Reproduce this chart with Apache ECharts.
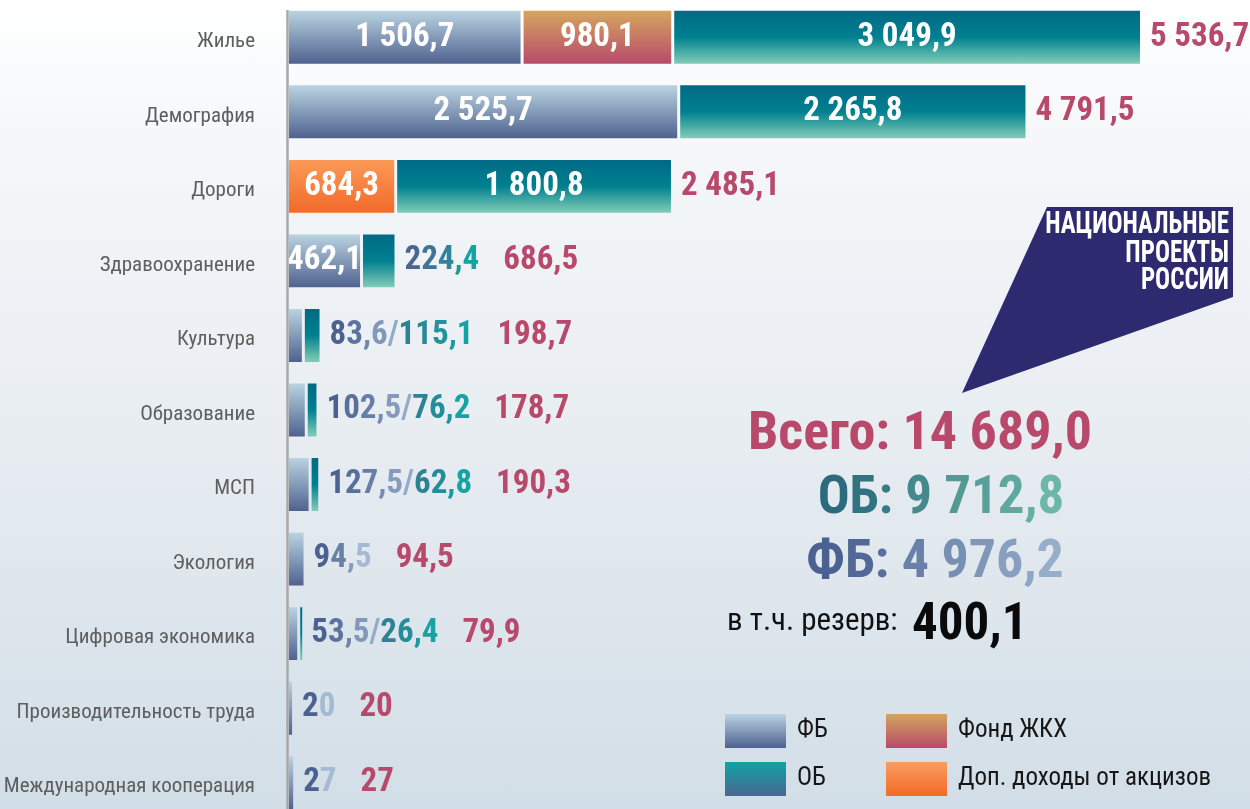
<!DOCTYPE html>
<html lang="ru">
<head>
<meta charset="utf-8">
<title>Национальные проекты</title>
<script src="https://cdn.jsdelivr.net/npm/echarts@6/dist/echarts.min.js"></script>
<style>
  html, body { margin: 0; padding: 0; }
  #chart {
    width: 1250px; height: 809px;
    background: linear-gradient(180deg, #ffffff 0%, #f6f8fa 15%, #e9eef2 50%, #d2dee7 100%);
  }
</style>
</head>
<body>
<div id="chart"></div>
<script>
// Projects (rows, top to bottom)
const categories = ['Жилье', 'Демография', 'Дороги', 'Здравоохранение', 'Культура', 'Образование',
  'МСП', 'Экология', 'Цифровая экономика', 'Производительность труда', 'Международная кооперация'];

// Funding by source, one value per project (null = no funding from that source)
const fbValues     = [1506.7, 2525.7, null, 462.1, 83.6, 102.5, 127.5, 94.5, 53.5, 20, 27];
const zhkhValues   = [980.1, null, null, null, null, null, null, null, null, null, null];
const excizeValues = [null, null, 684.3, null, null, null, null, null, null, null, null];
const obValues     = [3049.9, 2265.8, 1800.8, 224.4, 115.1, 76.2, 62.8, null, 26.4, null, null];

// Project totals
const totals = [5536.7, 4791.5, 2485.1, 686.5, 198.7, 178.7, 190.3, 94.5, 79.9, 20, 27];

// Summary figures
const summaryTotal = 14689.0;
const summaryOB = 9712.8;
const summaryFB = 4976.2;
const summaryReserve = 400.1;

const seriesNames = ['ФБ', 'Фонд ЖКХ', 'Доп. доходы от акцизов', 'ОБ'];

const FONT = "'Liberation Sans Narrow', 'Roboto Condensed', 'DejaVu Sans Condensed', 'Arial Narrow', sans-serif";
const CRIMSON = '#b8496b';
const INSIDE_MIN = 400;

function fmt(v, forceDecimal) {
  const s = (forceDecimal || !Number.isInteger(v)) ? v.toFixed(1) : String(v);
  const parts = s.split('.');
  const ip = parts[0].replace(/\B(?=(\d{3})+(?!\d))/g, ' ');
  return parts.length > 1 ? ip + ',' + parts[1] : ip;
}

function hexToRgb(h) {
  const n = parseInt(h.slice(1), 16);
  return [(n >> 16) & 255, (n >> 8) & 255, n & 255];
}
function mix(c1, c2, t) {
  const a = hexToRgb(c1), b = hexToRgb(c2);
  const r = a.map((v, k) => Math.round(v + (b[k] - v) * t));
  return 'rgb(' + r.join(',') + ')';
}
// Colours each character along a left-to-right blend
function blendTokens(str, c1, c2, prefix, rich, base) {
  let out = '';
  const n = str.length;
  for (let k = 0; k < n; k++) {
    const t = n > 1 ? k / (n - 1) : 0;
    const key = prefix + k;
    rich[key] = Object.assign({ fill: mix(c1, c2, t) }, base);
    out += '{' + key + '|' + str[k] + '}';
  }
  return out;
}

const vgrad = (stops) => new echarts.graphic.LinearGradient(0, 0, 0, 1,
  stops.map((c) => ({ offset: c[0], color: c[1] })));

const fills = [
  vgrad([[0, '#bad3e1'], [1, '#4f628f']]),
  vgrad([[0, '#d5a65f'], [1, '#b84a69']]),
  vgrad([[0, '#fb9a57'], [1, '#f26a2a']]),
  vgrad([[0, '#006a86'], [0.5, '#00808f'], [1, '#82cdb7']])
];
const legendFills = [
  vgrad([[0, '#bad3e2'], [1, '#4e6290']]),
  vgrad([[0, '#d3a55f'], [1, '#b94a6a']]),
  vgrad([[0, '#f99d62'], [1, '#f36a27']]),
  vgrad([[0, '#11a2a4'], [1, '#4a6792']])
];

// Stack segments in the order ФБ, Фонд ЖКХ, акцизы, ОБ
const stackArrays = [fbValues, zhkhValues, excizeValues, obValues];
const segData = stackArrays.map(() => []);
categories.forEach((c, i) => {
  let acc = 0;
  stackArrays.forEach((arr, s) => {
    const v = arr[i];
    if (v != null) {
      segData[s].push([i, acc, acc + v, v]);
      acc += v;
    }
  });
});

function makeSegRender(fill) {
  return function (params, api) {
    const cat = api.value(0), start = api.value(1), end = api.value(2), val = api.value(3);
    const p0 = api.coord([start, cat]);
    const p1 = api.coord([end, cat]);
    const h = api.size([0, 1])[1] * 0.71;
    const gap = start > 0 ? 3 : 0;
    const x = p0[0] + gap;
    const w = Math.max(p1[0] - x, 2);
    const el = {
      type: 'rect',
      shape: { x: x, y: p0[1] - h / 2, width: w, height: h },
      style: { fill: fill }
    };
    if (val >= INSIDE_MIN) {
      el.textContent = {
        style: { text: fmt(val), fill: '#ffffff', fontFamily: FONT, fontSize: 33, fontWeight: 'bold' }
      };
      el.textConfig = { position: 'inside' };
    }
    return el;
  };
}

const outBase = { fontFamily: FONT, fontSize: 33, fontWeight: 'bold' };

function labelRender(params, api) {
  const i = api.value(0), total = api.value(1);
  const p = api.coord([total, i]);
  const fb = fbValues[i], ob = obValues[i];
  const fbOut = fb != null && fb < INSIDE_MIN;
  const obOut = ob != null && ob < INSIDE_MIN;
  const rich = {};
  let text = '';
  if (fbOut && obOut) {
    text += blendTokens(fmt(fb) + '/', '#4b6190', '#93aac8', 'f', rich, outBase);
    text += blendTokens(fmt(ob), '#2d8393', '#13a4a3', 'o', rich, outBase);
  } else if (fbOut) {
    text += blendTokens(fmt(fb), '#4b6190', '#a3bad2', 'f', rich, outBase);
  } else if (obOut) {
    text += blendTokens(fmt(ob), '#4a6592', '#14a3a3', 'o', rich, outBase);
  }
  if (text) {
    rich.g = Object.assign({ width: 24 }, outBase);
    text += '{g| }';
  }
  rich.t = Object.assign({ fill: CRIMSON }, outBase);
  text += '{t|' + fmt(total) + '}';
  return {
    type: 'text',
    x: p[0] + 10,
    y: p[1],
    style: Object.assign({ text: text, rich: rich, align: 'left', verticalAlign: 'middle' }, outBase)
  };
}

const series = seriesNames.map((name, s) => ({
  type: 'custom',
  name: name,
  renderItem: makeSegRender(fills[s]),
  itemStyle: { color: fills[s] },
  encode: { x: [1, 2], y: 0 },
  data: segData[s],
  z: 2
}));
series.push({
  type: 'custom',
  name: 'totals',
  renderItem: labelRender,
  encode: { x: 1, y: 0 },
  data: totals.map((t, i) => [i, t]),
  z: 3
});

// Summary block texts
function summaryText(label, value, c1, c2, prefix, size) {
  const base = { fontFamily: FONT, fontSize: size, fontWeight: 'bold' };
  const rich = {};
  const text = blendTokens(label + fmt(value, true), c1, c2, prefix, rich, base);
  return { text: text, rich: rich, base: base };
}
const sumOB = summaryText('ОБ: ', summaryOB, '#2b6b7d', '#6db7a7', 'o', 53);
const sumFB = summaryText('ФБ: ', summaryFB, '#4a6191', '#97aecb', 'f', 54);

const logoLines = ['НАЦИОНАЛЬНЫЕ', 'ПРОЕКТЫ', 'РОССИИ'];

const legendText = { fontSize: 25, color: '#161616', fontFamily: FONT, padding: [0, 0, 0, 6] };
const catLabelStyle = { fontSize: 21, color: '#5e5e5e', fontFamily: FONT };

const chart = echarts.init(document.getElementById('chart'), null, { renderer: 'canvas' });

const option = {
  backgroundColor: 'transparent',
  animation: false,
  grid: { left: 289, top: 0, width: 922.2, height: 820, outerBoundsMode: 'none' },
  xAxis: { type: 'value', min: 0, max: 6000, show: false },
  yAxis: {
    type: 'category',
    data: categories,
    inverse: true,
    axisLine: { show: false },
    axisTick: { show: false },
    splitLine: { show: false },
    axisLabel: Object.assign({
      margin: 34,
      formatter: (v) => '{c|' + v + '}',
      rich: { c: Object.assign({ padding: [9, 0, 0, 0] }, catLabelStyle) }
    }, catLabelStyle)
  },
  legend: [
    {
      orient: 'vertical', left: 725, top: 714, padding: 0, itemWidth: 61, itemHeight: 34, itemGap: 14,
      icon: 'rect', selectedMode: false, textStyle: legendText,
      data: [
        { name: 'ФБ', itemStyle: { color: legendFills[0] } },
        { name: 'ОБ', itemStyle: { color: legendFills[3] } }
      ]
    },
    {
      orient: 'vertical', left: 886, top: 714, padding: 0, itemWidth: 61, itemHeight: 34, itemGap: 14,
      icon: 'rect', selectedMode: false, textStyle: legendText,
      data: [
        { name: 'Фонд ЖКХ', itemStyle: { color: legendFills[1] } },
        { name: 'Доп. доходы от акцизов', itemStyle: { color: legendFills[2] } }
      ]
    }
  ],
  graphic: [
    {
      id: 'logoShape', type: 'polygon', z: 5,
      shape: { points: [[1047, 207], [1233, 207], [1233, 297], [962, 393]] },
      style: { fill: '#2e2a6f' }
    },
    ...logoLines.map((line, k) => ({
      id: 'logo' + k, type: 'text', z: 6,
      x: 1229, y: [225, 253.5, 281][k], scaleY: 1.28,
      style: { text: line, fill: '#ffffff', fontFamily: FONT, fontSize: 25, fontWeight: 'bold',
               align: 'right', verticalAlign: 'middle' }
    })),
    {
      id: 'sumTotal', type: 'text', z: 6, x: 920, y: 435,
      style: { text: 'Всего: ' + fmt(summaryTotal, true), fill: CRIMSON, fontFamily: FONT,
               fontSize: 54, fontWeight: 'bold', align: 'center', verticalAlign: 'middle' }
    },
    {
      id: 'sumOB', type: 'text', z: 6, x: 941, y: 500,
      style: Object.assign({ text: sumOB.text, rich: sumOB.rich, align: 'center', verticalAlign: 'middle' }, sumOB.base)
    },
    {
      id: 'sumFB', type: 'text', z: 6, x: 935, y: 563,
      style: Object.assign({ text: sumFB.text, rich: sumFB.rich, align: 'center', verticalAlign: 'middle' }, sumFB.base)
    },
    {
      id: 'reserveLabel', type: 'text', z: 6, x: 727, y: 622,
      style: { text: 'в т.ч. резерв:', fill: '#111111', fontFamily: FONT, fontSize: 31,
               align: 'left', verticalAlign: 'middle' }
    },
    {
      id: 'reserveValue', type: 'text', z: 6, x: 912, y: 626,
      style: { text: fmt(summaryReserve, true), fill: '#0a0a0a', fontFamily: FONT, fontSize: 51,
               fontWeight: 'bold', align: 'left', verticalAlign: 'middle' }
    }
  ],
  series: series
};

chart.setOption(option);

// Category axis line, placed at the value-axis zero
const zeroX = chart.convertToPixel({ gridIndex: 0 }, [0, 0])[0];
chart.setOption({
  graphic: [{
    id: 'axisLine', type: 'line', z: 4,
    shape: { x1: zeroX - 1.5, y1: 10, x2: zeroX - 1.5, y2: 809 },
    style: { stroke: '#a8a8a8', lineWidth: 2.5 }
  }]
});
</script>
</body>
</html>
